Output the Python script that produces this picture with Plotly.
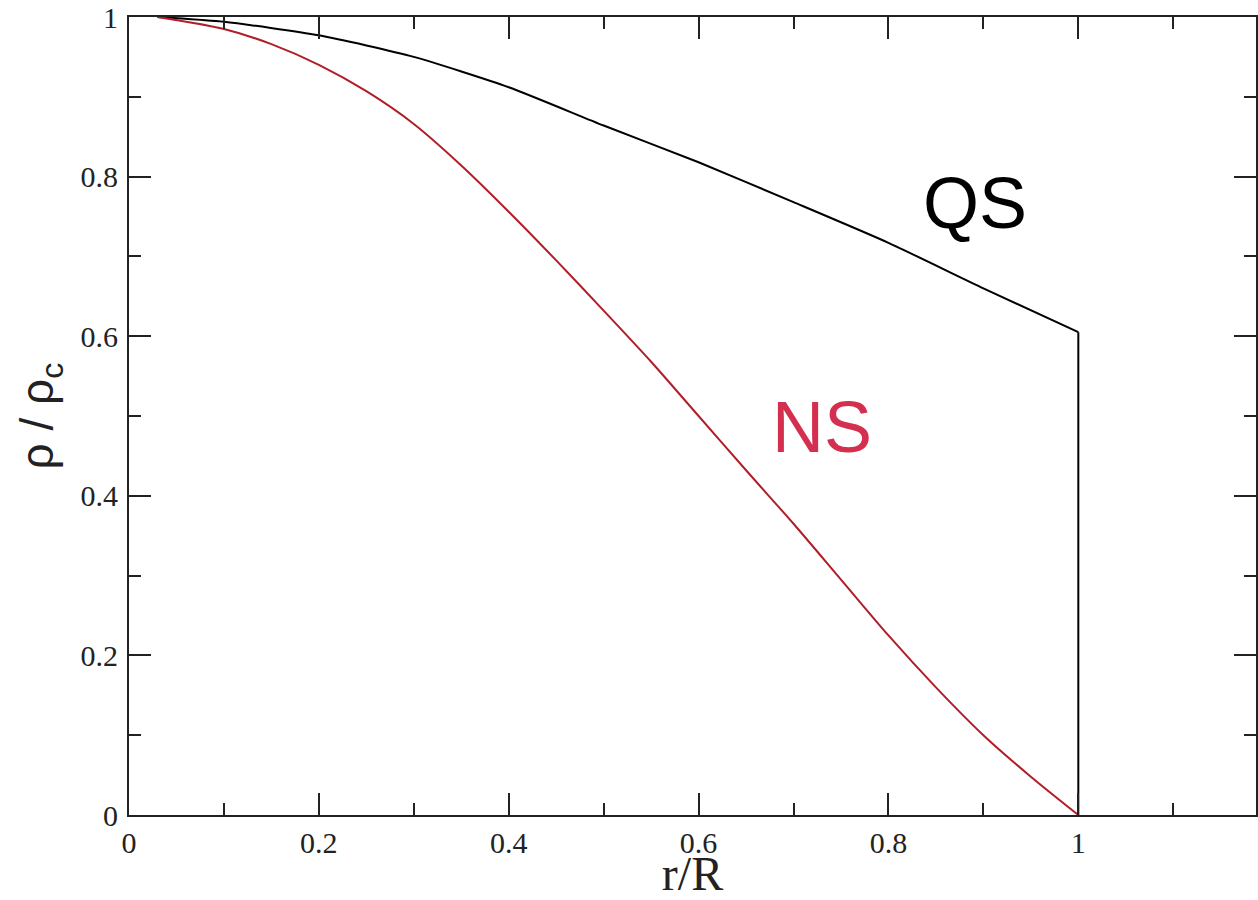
import plotly.graph_objects as go

# Data
ns_r = [0.03, 0.1, 0.15, 0.2, 0.25, 0.3, 0.35, 0.4, 0.45, 0.5, 0.55, 0.6, 0.65,
        0.7, 0.75, 0.8, 0.85, 0.9, 0.95, 1.0]
ns_rho = [1.0, 0.985, 0.966, 0.940, 0.907, 0.866, 0.814, 0.756, 0.695, 0.632,
          0.568, 0.500, 0.432, 0.365, 0.295, 0.225, 0.160, 0.100, 0.048, 0.0]

# QS interior profile and the density jump at the surface
qs_r = [0.03, 0.1, 0.2, 0.3, 0.4, 0.5, 0.6, 0.7, 0.8, 0.9, 1.0]
qs_rho = [1.0, 0.994, 0.977, 0.950, 0.912, 0.864, 0.818, 0.768, 0.717, 0.660, 0.605]
qs_surface_r = [1.0, 1.0]
qs_surface_rho = [0.605, 0.0]

x_ticks = [0, 0.2, 0.4, 0.6, 0.8, 1.0]
x_ticklabels = ["0", "0.2", "0.4", "0.6", "0.8", "1"]
y_ticks = [0, 0.2, 0.4, 0.6, 0.8, 1.0]
y_ticklabels = ["0", "0.2", "0.4", "0.6", "0.8", "1"]

W, H = 1258, 900
ML, MR, MT, MB = 129, 0, 15, 85
px_per_x = 951.0
x_max = (W - ML - MR) / px_per_x

fig = go.Figure()
fig.add_trace(go.Scatter(x=qs_r, y=qs_rho, mode="lines",
                         line=dict(color="#000000", width=2, shape="spline", smoothing=0.6),
                         showlegend=False))
fig.add_trace(go.Scatter(x=qs_surface_r, y=qs_surface_rho, mode="lines",
                         line=dict(color="#000000", width=2), showlegend=False))
fig.add_trace(go.Scatter(x=ns_r, y=ns_rho, mode="lines",
                         line=dict(color="#b01e28", width=2, shape="spline", smoothing=0.8),
                         showlegend=False))

fig.add_annotation(x=0.891, y=0.7675, xref="x", yref="y", text="QS",
                   showarrow=False, font=dict(family="Liberation Sans", size=72, color="#000000"))
fig.add_annotation(x=0.730, y=0.486, xref="x", yref="y", text="NS",
                   showarrow=False, font=dict(family="Liberation Sans", size=72, color="#d42f4f"))

axis_common = dict(
    showgrid=False, zeroline=False, showline=True, linecolor="#222222", linewidth=2,
    mirror="allticks", ticks="inside", ticklen=22, tickwidth=2, tickcolor="#222222",
    tickfont=dict(family="Liberation Serif", size=30, color="#222222"),
    ticklabeloverflow="allow",
    minor=dict(ticks="inside", ticklen=12, tickwidth=2, tickcolor="#222222", dtick=0.1),
)

fig.update_xaxes(range=[0, x_max], tickvals=x_ticks, ticktext=x_ticklabels,
                 title=dict(text="r/R", font=dict(family="Liberation Serif", size=48, color="#222222"),
                            standoff=7),
                 **axis_common)
fig.update_yaxes(range=[0, 1], tickvals=y_ticks, ticktext=y_ticklabels,
                 title=dict(text="ρ / ρ<sub>c</sub>", font=dict(family="Liberation Sans", size=46, color="#222222"),
                            standoff=12),
                 ticklabelstandoff=3,
                 **axis_common)

fig.update_layout(width=W, height=H, autosize=False,
                  margin=dict(l=ML, r=MR, t=MT, b=MB, pad=0),
                  plot_bgcolor="white", paper_bgcolor="white")

fig.write_html("out.html")
